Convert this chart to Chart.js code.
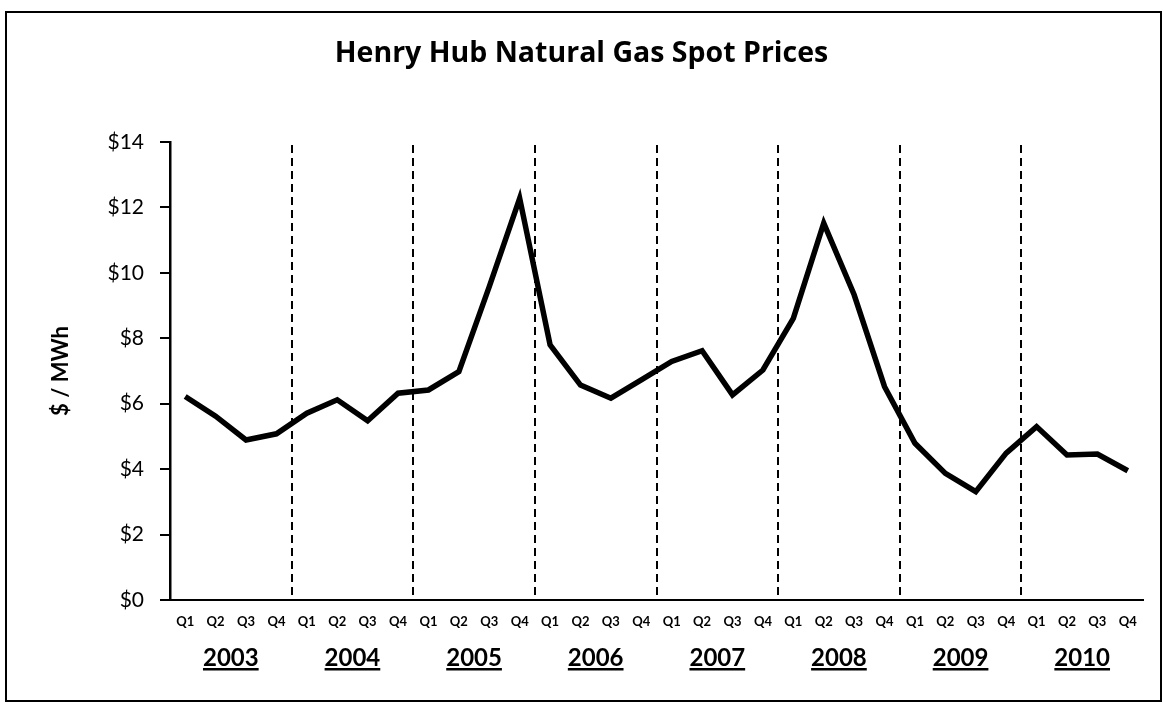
<!DOCTYPE html>
<html>
<head>
<meta charset="utf-8">
<script src="https://cdn.jsdelivr.net/npm/chart.js@4"></script>
<style>
  html, body { margin: 0; padding: 0; background: #fff; }
  #wrap { position: absolute; left: 0; top: 0; width: 1163px; height: 706px; }
  #frame {
    position: absolute; left: 5px; top: 11px; width: 1153px; height: 687px;
    border: 2px solid #000; pointer-events: none;
  }
</style>
</head>
<body>
<div id="wrap"><canvas id="chart" width="1163" height="706"></canvas></div>
<div id="frame"></div>
<script>
// Quarterly Henry Hub spot prices, 2003 Q1 .. 2010 Q4
const years = ['2003', '2004', '2005', '2006', '2007', '2008', '2009', '2010']
const quarters = ['Q1', 'Q2', 'Q3', 'Q4']
const prices = [
  6.22, 5.62, 4.89, 5.08,
  5.71, 6.12, 5.48, 6.32,
  6.42, 6.98, 9.58, 12.28,
  7.80, 6.57, 6.17, 6.73,
  7.29, 7.62, 6.27, 7.03,
  8.61, 11.52, 9.33, 6.52,
  4.79, 3.87, 3.31, 4.49,
  5.30, 4.43, 4.46, 3.95
]
const yTicks = [0, 2, 4, 6, 8, 10, 12, 14]

const labels = years.flatMap(() => quarters)
const FONT = 'Lato, "Open Sans", sans-serif'

// dashed separators between years, halfway between Q4 and the next Q1
const yearSeparators = {
  id: 'yearSeparators',
  beforeDatasetsDraw(chart) {
    const x = chart.scales.x
    const { top, bottom } = chart.chartArea
    const ctx = chart.ctx
    ctx.save()
    ctx.strokeStyle = '#000'
    ctx.lineWidth = 2
    ctx.setLineDash([8, 5])
    for (let i = 4; i < labels.length; i += 4) {
      const px = Math.round((x.getPixelForValue(i - 1) + x.getPixelForValue(i)) / 2)
      ctx.beginPath()
      ctx.moveTo(px, top + 3)
      ctx.lineTo(px, bottom)
      ctx.stroke()
    }
    ctx.restore()
  }
}

// underline the year labels, using the positions the axis drew them at
const underlineYears = {
  id: 'underlineYears',
  afterDraw(chart) {
    const s = chart.scales.years
    const ctx = chart.ctx
    ctx.save()
    ctx.strokeStyle = '#000'
    ctx.lineWidth = 2.5
    s.getLabelItems().forEach(item => {
      ctx.font = item.font.string
      ctx.textBaseline = item.options.textBaseline
      const m = ctx.measureText(item.label)
      const cx = item.options.translation[0]
      const y = item.options.translation[1] + item.textOffset + m.actualBoundingBoxDescent + 3
      ctx.beginPath()
      ctx.moveTo(cx - m.width / 2, y)
      ctx.lineTo(cx + m.width / 2, y)
      ctx.stroke()
    })
    ctx.restore()
  }
}

new Chart(document.getElementById('chart'), {
  type: 'line',
  data: {
    labels: labels,
    datasets: [{
      data: prices,
      borderColor: '#000',
      borderWidth: 5.5,
      pointRadius: 0,
      tension: 0,
      fill: false
    }]
  },
  plugins: [yearSeparators, underlineYears],
  options: {
    responsive: false,
    animation: false,
    layout: { padding: { left: 20, right: 20, top: 0, bottom: 20 } },
    plugins: {
      legend: { display: false },
      tooltip: { enabled: false },
      title: {
        display: true,
        text: 'Henry Hub Natural Gas Spot Prices',
        color: '#000',
        font: { family: '"Open Sans", Lato, sans-serif', size: 28.5, weight: 'bold' },
        padding: { top: 36.9, bottom: 70.9 }
      }
    },
    scales: {
      x: {
        type: 'category',
        offset: true,
        weight: 0,
        grid: { display: false },
        border: { display: true, color: '#000', width: 2 },
        ticks: {
          color: '#000',
          font: { family: FONT, size: 13, weight: 'bold' },
          padding: 6,
          maxRotation: 0,
          autoSkip: false
        },
        afterFit(scale) { scale.height = 36 }
      },
      years: {
        type: 'category',
        position: 'bottom',
        labels: years,
        offset: true,
        weight: 1,
        grid: { display: false },
        border: { display: false },
        ticks: {
          color: '#000',
          font: { family: FONT, size: 24, weight: 'bold' },
          padding: 0,
          maxRotation: 0,
          autoSkip: false
        },
        afterFit(scale) { scale.height = 50 }
      },
      y: {
        min: 0,
        max: 14,
        afterBuildTicks(scale) { scale.ticks = yTicks.map(v => ({ value: v })) },
        grid: {
          drawOnChartArea: false,
          drawTicks: true,
          tickLength: 10,
          color: '#000',
          lineWidth: 2
        },
        border: { display: true, color: '#000', width: 2.5 },
        ticks: {
          color: '#000',
          font: { family: FONT, size: 21 },
          padding: 16,
          callback: v => '$' + v
        },
        title: {
          display: true,
          text: '$ / MWh',
          color: '#000',
          font: { family: FONT, size: 22, weight: 'bold' },
          padding: { top: 28, bottom: 0 }
        },
        afterFit(scale) { scale.width = 150 }
      }
    }
  }
})
</script>
</body>
</html>
